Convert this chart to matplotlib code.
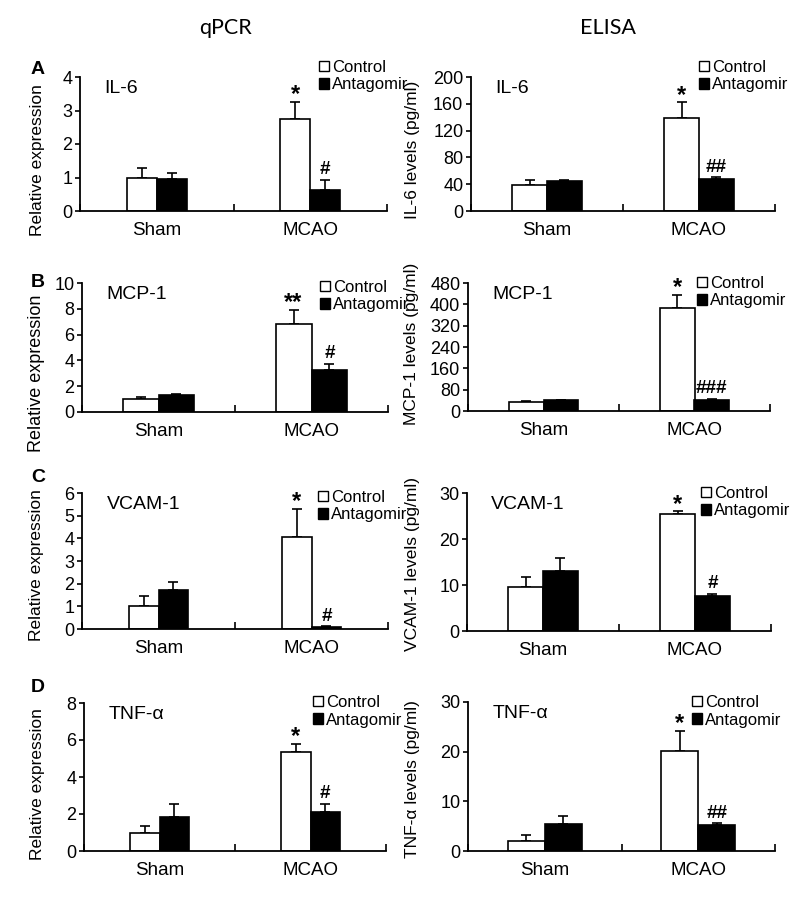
import numpy as np
import matplotlib
matplotlib.use("Agg")
import matplotlib.pyplot as plt
from matplotlib.patches import Patch

plt.rcParams["font.family"] = ["Liberation Sans", "DejaVu Sans"]

groups = ["Sham", "MCAO"]
markers = ["IL-6", "MCP-1", "VCAM-1", "TNF-α"]
panel_letters = ["A", "B", "C", "D"]

# qPCR (relative expression): [Sham, MCAO]
qpcr_control = [[1.00, 2.75], [1.00, 6.85], [1.02, 4.06], [0.99, 5.34]]
qpcr_control_err = [[0.28, 0.50], [0.14, 1.03], [0.45, 1.24], [0.38, 0.46]]
qpcr_antagomir = [[0.96, 0.62], [1.29, 3.23], [1.71, 0.09], [1.84, 2.10]]
qpcr_antagomir_err = [[0.16, 0.31], [0.11, 0.52], [0.37, 0.04], [0.71, 0.45]]
qpcr_ymax = [4, 10, 6, 8]
qpcr_ystep = [1, 2, 1, 2]
qpcr_star = ["*", "**", "*", "*"]
qpcr_hash = ["#", "#", "#", "#"]

# ELISA (pg/ml): [Sham, MCAO]
elisa_control = [[38.5, 139.5], [35, 386], [9.5, 25.4], [2.0, 20.2]]
elisa_control_err = [[7.5, 22.5], [1, 50], [2.3, 0.6], [1.15, 4.0]]
elisa_antagomir = [[45.5, 47.5], [40, 42.6], [13.0, 7.6], [5.4, 5.2]]
elisa_antagomir_err = [[1.0, 3.0], [1.5, 3.4], [2.8, 0.5], [1.6, 0.35]]
elisa_ymax = [200, 480, 30, 30]
elisa_ystep = [40, 80, 10, 10]
elisa_star = ["*", "*", "*", "*"]
elisa_hash = ["##", "###", "#", "##"]

W, H = 800, 908
fig = plt.figure(figsize=(W / 100, H / 100), dpi=100)

# axes boxes in pixels: x0, x1, ytop, ybottom
left_boxes = [(80, 387, 77, 211), (82, 388, 283, 412), (82, 388, 493, 629), (84, 386, 703, 851)]
right_boxes = [(471, 775, 77, 211), (468, 770, 283, 411), (467, 771, 493, 631), (468, 775, 702, 851)]
left_widths = [0.195, 0.235, 0.195, 0.195]
right_widths = [0.23, 0.23, 0.23, 0.24]
left_legend = [(319, 60), (320, 280), (318, 490), (313, 695)]
right_legend = [(699, 60), (697, 276), (701, 486), (692, 695)]
left_label = [(38, 160, 12.5), (37, 373, 13), (37, 565, 12.5), (38, 784, 12.5)]
right_label = [(412, 150, 12.5), (411, 344, 12.5), (413, 564, 12.5), (412, 779, 12.5)]
letter_pos = [(38, 70), (38, 282), (38, 478), (38, 688)]


def draw(box, bw, ctrl, ctrl_err, anta, anta_err, ymax, ystep, ylabel, lab, name, star, hsh, leg):
    x0, x1, yt, yb = box
    ax = fig.add_axes([x0 / W, 1 - yb / H, (x1 - x0) / W, (yb - yt) / H])
    centers = np.array([0.5, 1.5])
    ax.bar(centers - bw / 2, ctrl, bw, color="white", edgecolor="black", linewidth=1.2, zorder=2)
    ax.bar(centers + bw / 2, anta, bw, color="black", edgecolor="black", linewidth=1.2, zorder=2)
    ax.errorbar(centers - bw / 2, ctrl, yerr=[np.zeros(2), ctrl_err], fmt="none",
                ecolor="black", elinewidth=1.2, capsize=3.5, capthick=1.2, zorder=1)
    ax.errorbar(centers + bw / 2, anta, yerr=[np.zeros(2), anta_err], fmt="none",
                ecolor="black", elinewidth=1.2, capsize=3.5, capthick=1.2, zorder=1)
    ax.annotate(star, (centers[1] - bw / 2, ctrl[1] + ctrl_err[1]), xytext=(0, -3),
                textcoords="offset points", ha="center", va="bottom", fontsize=17, fontweight="bold")
    ax.annotate(hsh, (centers[1] + bw / 2, anta[1] + anta_err[1]), xytext=(0, 1),
                textcoords="offset points", ha="center", va="bottom", fontsize=13.5, fontweight="bold")
    ax.set_xlim(0, 2)
    ax.set_ylim(0, ymax)
    ax.set_yticks(np.arange(0, ymax + ystep / 2, ystep))
    ax.set_xticks([0, 1, 2])
    ax.set_xticklabels([])
    ax.set_xticks(centers, minor=True)
    ax.set_xticklabels(groups, minor=True, fontsize=13.5)
    ax.tick_params(axis="x", which="major", direction="in", length=5, width=1.2)
    ax.tick_params(axis="x", which="minor", length=0, pad=8)
    ax.tick_params(axis="y", direction="out", length=3.5, width=1.2, labelsize=13, pad=2)
    for s in ["top", "right"]:
        ax.spines[s].set_visible(False)
    for s in ["left", "bottom"]:
        ax.spines[s].set_linewidth(1.3)
    ax.set_ylabel(ylabel, fontsize=lab[2], va="center")
    ax.yaxis.set_label_coords(lab[0] / W, 1 - lab[1] / H, transform=fig.transFigure)
    ax.text(0.08, 0.98, name, transform=ax.transAxes, ha="left", va="top", fontsize=14)
    handles = [Patch(facecolor="white", edgecolor="black", linewidth=1),
               Patch(facecolor="black", edgecolor="black", linewidth=1)]
    ax.legend(handles, ["Control", "Antagomir"], loc="upper left",
              bbox_to_anchor=(leg[0] / W, 1 - leg[1] / H), bbox_transform=fig.transFigure,
              frameon=False, fontsize=12, handlelength=0.6, handleheight=0.6,
              handletextpad=0.2, labelspacing=0.15, borderpad=0, borderaxespad=0)
    return ax


for i in range(4):
    draw(left_boxes[i], left_widths[i], qpcr_control[i], qpcr_control_err[i],
         qpcr_antagomir[i], qpcr_antagomir_err[i], qpcr_ymax[i], qpcr_ystep[i],
         "Relative expression", left_label[i], markers[i], qpcr_star[i], qpcr_hash[i], left_legend[i])
    draw(right_boxes[i], right_widths[i], elisa_control[i], elisa_control_err[i],
         elisa_antagomir[i], elisa_antagomir_err[i], elisa_ymax[i], elisa_ystep[i],
         markers[i] + " levels (pg/ml)", right_label[i], markers[i], elisa_star[i], elisa_hash[i],
         right_legend[i])
    fig.text(letter_pos[i][0] / W, 1 - letter_pos[i][1] / H, panel_letters[i],
             ha="center", va="center", fontsize=14, fontweight="bold")

fig.text(225 / W, 1 - 28 / H, "qPCR", ha="center", va="center", fontsize=15.5,
         family=["Lato", "DejaVu Sans"])
fig.text(608 / W, 1 - 28 / H, "ELISA", ha="center", va="center", fontsize=15.5,
         family=["Lato", "DejaVu Sans"])

fig.savefig("out.png", dpi=100)
